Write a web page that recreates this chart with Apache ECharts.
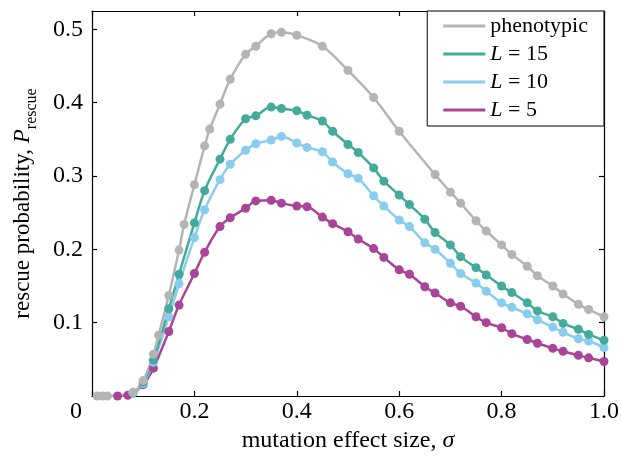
<!DOCTYPE html>
<html lang="en">
<head>
    <meta charset="UTF-8">
    <title>rescue probability</title>
    <script src="https://cdn.jsdelivr.net/npm/echarts@6/dist/echarts.min.js"></script>
    <style>
        * { margin: 0; padding: 0; }
        html, body { width: 100%; height: 100%; background: #fff; }
    </style>
</head>
<body>
<div id="main" style="width: 622px;height:459px;"></div>
<script>
    // values (sigma, P_rescue)
    var sigmaPheno = [0.01, 0.02, 0.03, 0.08, 0.10, 0.12, 0.13, 0.15, 0.17, 0.18, 0.20, 0.22, 0.23, 0.25, 0.27, 0.30, 0.32, 0.35, 0.37, 0.40, 0.45, 0.50, 0.55, 0.60, 0.67, 0.70, 0.72, 0.75, 0.77, 0.80, 0.82, 0.85, 0.87, 0.90, 0.92, 0.95, 0.97, 1.00];
    var pPheno = [0, 0, 0, 0.005, 0.021, 0.057, 0.083, 0.137, 0.199, 0.234, 0.288, 0.341, 0.364, 0.398, 0.432, 0.466, 0.477, 0.494, 0.496, 0.492, 0.477, 0.444, 0.407, 0.361, 0.302, 0.278, 0.263, 0.239, 0.225, 0.206, 0.193, 0.177, 0.164, 0.150, 0.139, 0.125, 0.118, 0.108];

    var sigmaL = [0.08, 0.10, 0.12, 0.15, 0.17, 0.20, 0.22, 0.25, 0.27, 0.30, 0.32, 0.35, 0.37, 0.40, 0.42, 0.45, 0.47, 0.50, 0.52, 0.55, 0.57, 0.60, 0.62, 0.65, 0.67, 0.70, 0.72, 0.75, 0.77, 0.80, 0.82, 0.85, 0.87, 0.90, 0.92, 0.95, 0.97, 1.00];
    var pL15 = [0.004, 0.019, 0.049, 0.119, 0.166, 0.236, 0.280, 0.323, 0.350, 0.378, 0.382, 0.394, 0.392, 0.389, 0.383, 0.375, 0.361, 0.343, 0.332, 0.311, 0.293, 0.274, 0.261, 0.241, 0.223, 0.206, 0.190, 0.175, 0.165, 0.150, 0.141, 0.127, 0.116, 0.108, 0.099, 0.091, 0.084, 0.076];
    var pL10 = [0.004, 0.017, 0.046, 0.108, 0.153, 0.216, 0.254, 0.295, 0.316, 0.335, 0.344, 0.349, 0.354, 0.345, 0.339, 0.333, 0.319, 0.303, 0.297, 0.273, 0.259, 0.240, 0.231, 0.209, 0.200, 0.181, 0.167, 0.154, 0.143, 0.127, 0.121, 0.112, 0.104, 0.094, 0.087, 0.078, 0.075, 0.066];

    var sigmaL5 = [0.05, 0.07, 0.10, 0.12, 0.15, 0.17, 0.20, 0.22, 0.25, 0.27, 0.30, 0.32, 0.35, 0.37, 0.40, 0.42, 0.45, 0.47, 0.50, 0.52, 0.55, 0.57, 0.60, 0.62, 0.65, 0.67, 0.70, 0.72, 0.75, 0.77, 0.80, 0.82, 0.85, 0.87, 0.90, 0.92, 0.95, 0.97, 1.00];
    var pL5 = [0, 0.001, 0.0155, 0.038, 0.088, 0.124, 0.167, 0.196, 0.231, 0.243, 0.256, 0.266, 0.267, 0.263, 0.259, 0.258, 0.244, 0.235, 0.224, 0.214, 0.201, 0.189, 0.172, 0.166, 0.149, 0.1405, 0.127, 0.1224, 0.108, 0.100, 0.093, 0.085, 0.077, 0.072, 0.065, 0.061, 0.0555, 0.052, 0.047];

    var legendNames = ['phenotypic', 'L = 15', 'L = 10', 'L = 5'];
    var xTicks = [0, 0.2, 0.4, 0.6, 0.8, 1.0];
    var yTicks = [0.1, 0.2, 0.3, 0.4, 0.5];

    var FONT = 'Liberation Serif';
    var AXIS_FS = 24;

    function pairs(xs, ys) {
        var res = [];
        for (var i = 0; i < xs.length; i++) {
            res.push([xs[i], ys[i]]);
        }
        return res;
    }

    function curve(name, data, color) {
        return {
            type: 'line',
            name: name,
            data: data,
            smooth: 0.35,
            symbol: 'circle',
            symbolSize: 9,
            showAllSymbol: true,
            lineStyle: { width: 2.5, color: color },
            itemStyle: { color: color },
            emphasis: { disabled: true }
        };
    }

    var myChart = echarts.init(document.getElementById('main'));

    var axisLine = { show: true, onZero: false, lineStyle: { color: '#000', width: 1.2 } };
    var axisTick = { show: true, inside: true, length: 5, lineStyle: { color: '#000', width: 1.2 } };

    myChart.setOption({
        animation: false,
        backgroundColor: '#fff',
        textStyle: { fontFamily: FONT },
        grid: { left: 92, right: 18, top: 11, bottom: 63 },
        legend: {
            data: legendNames,
            orient: 'vertical',
            right: 18,
            top: 11,
            icon: 'rect',
            itemWidth: 42,
            itemHeight: 3,
            itemGap: 6,
            padding: [4, 16, 5, 16],
            borderColor: '#000',
            borderWidth: 1,
            borderRadius: 0,
            backgroundColor: '#fff',
            formatter: function (name) {
                if (name.charAt(0) === 'L') {
                    return '{i|L}{r|' + name.slice(1) + '}';
                }
                return '{r|' + name + '}';
            },
            textStyle: {
                color: '#000',
                fontSize: 22,
                fontFamily: FONT,
                rich: {
                    i: { fontStyle: 'italic', fontSize: 22, fontFamily: FONT, color: '#000' },
                    r: { fontSize: 22, fontFamily: FONT, color: '#000' }
                }
            }
        },
        xAxis: [
            {
                type: 'value',
                position: 'bottom',
                min: 0,
                max: 1,
                interval: 0.2,
                axisLine: axisLine,
                axisTick: axisTick,
                splitLine: { show: false },
                axisLabel: {
                    color: '#000',
                    fontSize: AXIS_FS,
                    fontFamily: FONT,
                    margin: 4,
                    formatter: function (v) {
                        if (v === 0) return '{z|0}';
                        return xTicks.indexOf(Math.round(v * 10) / 10) >= 0 ? v.toFixed(1) : '';
                    },
                    rich: { z: { fontSize: AXIS_FS, fontFamily: FONT, color: '#000', padding: [0, 32, 0, 0] } }
                },
                name: '{t|mutation effect size, }{i|σ}',
                nameLocation: 'middle',
                nameGap: 31,
                nameTextStyle: {
                    rich: {
                        t: { fontSize: AXIS_FS, fontFamily: FONT, color: '#000' },
                        i: { fontSize: AXIS_FS, fontFamily: FONT, fontStyle: 'italic', color: '#000' }
                    }
                }
            },
            {
                type: 'value',
                position: 'top',
                min: 0,
                max: 1,
                interval: 0.2,
                axisLine: axisLine,
                axisTick: axisTick,
                axisLabel: { show: false },
                splitLine: { show: false }
            }
        ],
        yAxis: [
            {
                type: 'value',
                position: 'left',
                min: 0,
                max: 0.525,
                interval: 0.1,
                axisLine: axisLine,
                axisTick: axisTick,
                splitLine: { show: false },
                axisLabel: {
                    color: '#000',
                    fontSize: AXIS_FS,
                    fontFamily: FONT,
                    margin: 9,
                    showMinLabel: false,
                    showMaxLabel: false,
                    formatter: function (v) {
                        var r = Math.round(v * 10) / 10;
                        return (yTicks.indexOf(r) >= 0 && Math.abs(v - r) < 1e-6) ? r.toFixed(1) : '';
                    }
                },
                name: '{t|rescue probability, }{p|P}{s|rescue}',
                nameLocation: 'middle',
                nameGap: 52,
                nameRotate: 90,
                nameTextStyle: {
                    rich: {
                        t: { fontSize: 23, fontFamily: FONT, color: '#000', lineHeight: 30 },
                        p: { fontSize: 23, fontFamily: FONT, fontStyle: 'italic', color: '#000', lineHeight: 30 },
                        s: { fontSize: 16, fontFamily: FONT, color: '#000', lineHeight: 34, verticalAlign: 'bottom' }
                    }
                }
            },
            {
                type: 'value',
                position: 'right',
                min: 0,
                max: 0.525,
                interval: 0.1,
                axisLine: axisLine,
                axisTick: axisTick,
                axisLabel: { show: false },
                splitLine: { show: false }
            }
        ],
        series: [
            curve('L = 5', pairs(sigmaL5, pL5), '#aa4499'),
            curve('L = 10', pairs(sigmaL, pL10), '#88ccee'),
            curve('L = 15', pairs(sigmaL, pL15), '#44aa99'),
            curve('phenotypic', pairs(sigmaPheno, pPheno), '#b4b4b4')
        ]
    });
</script>
</body>
</html>
